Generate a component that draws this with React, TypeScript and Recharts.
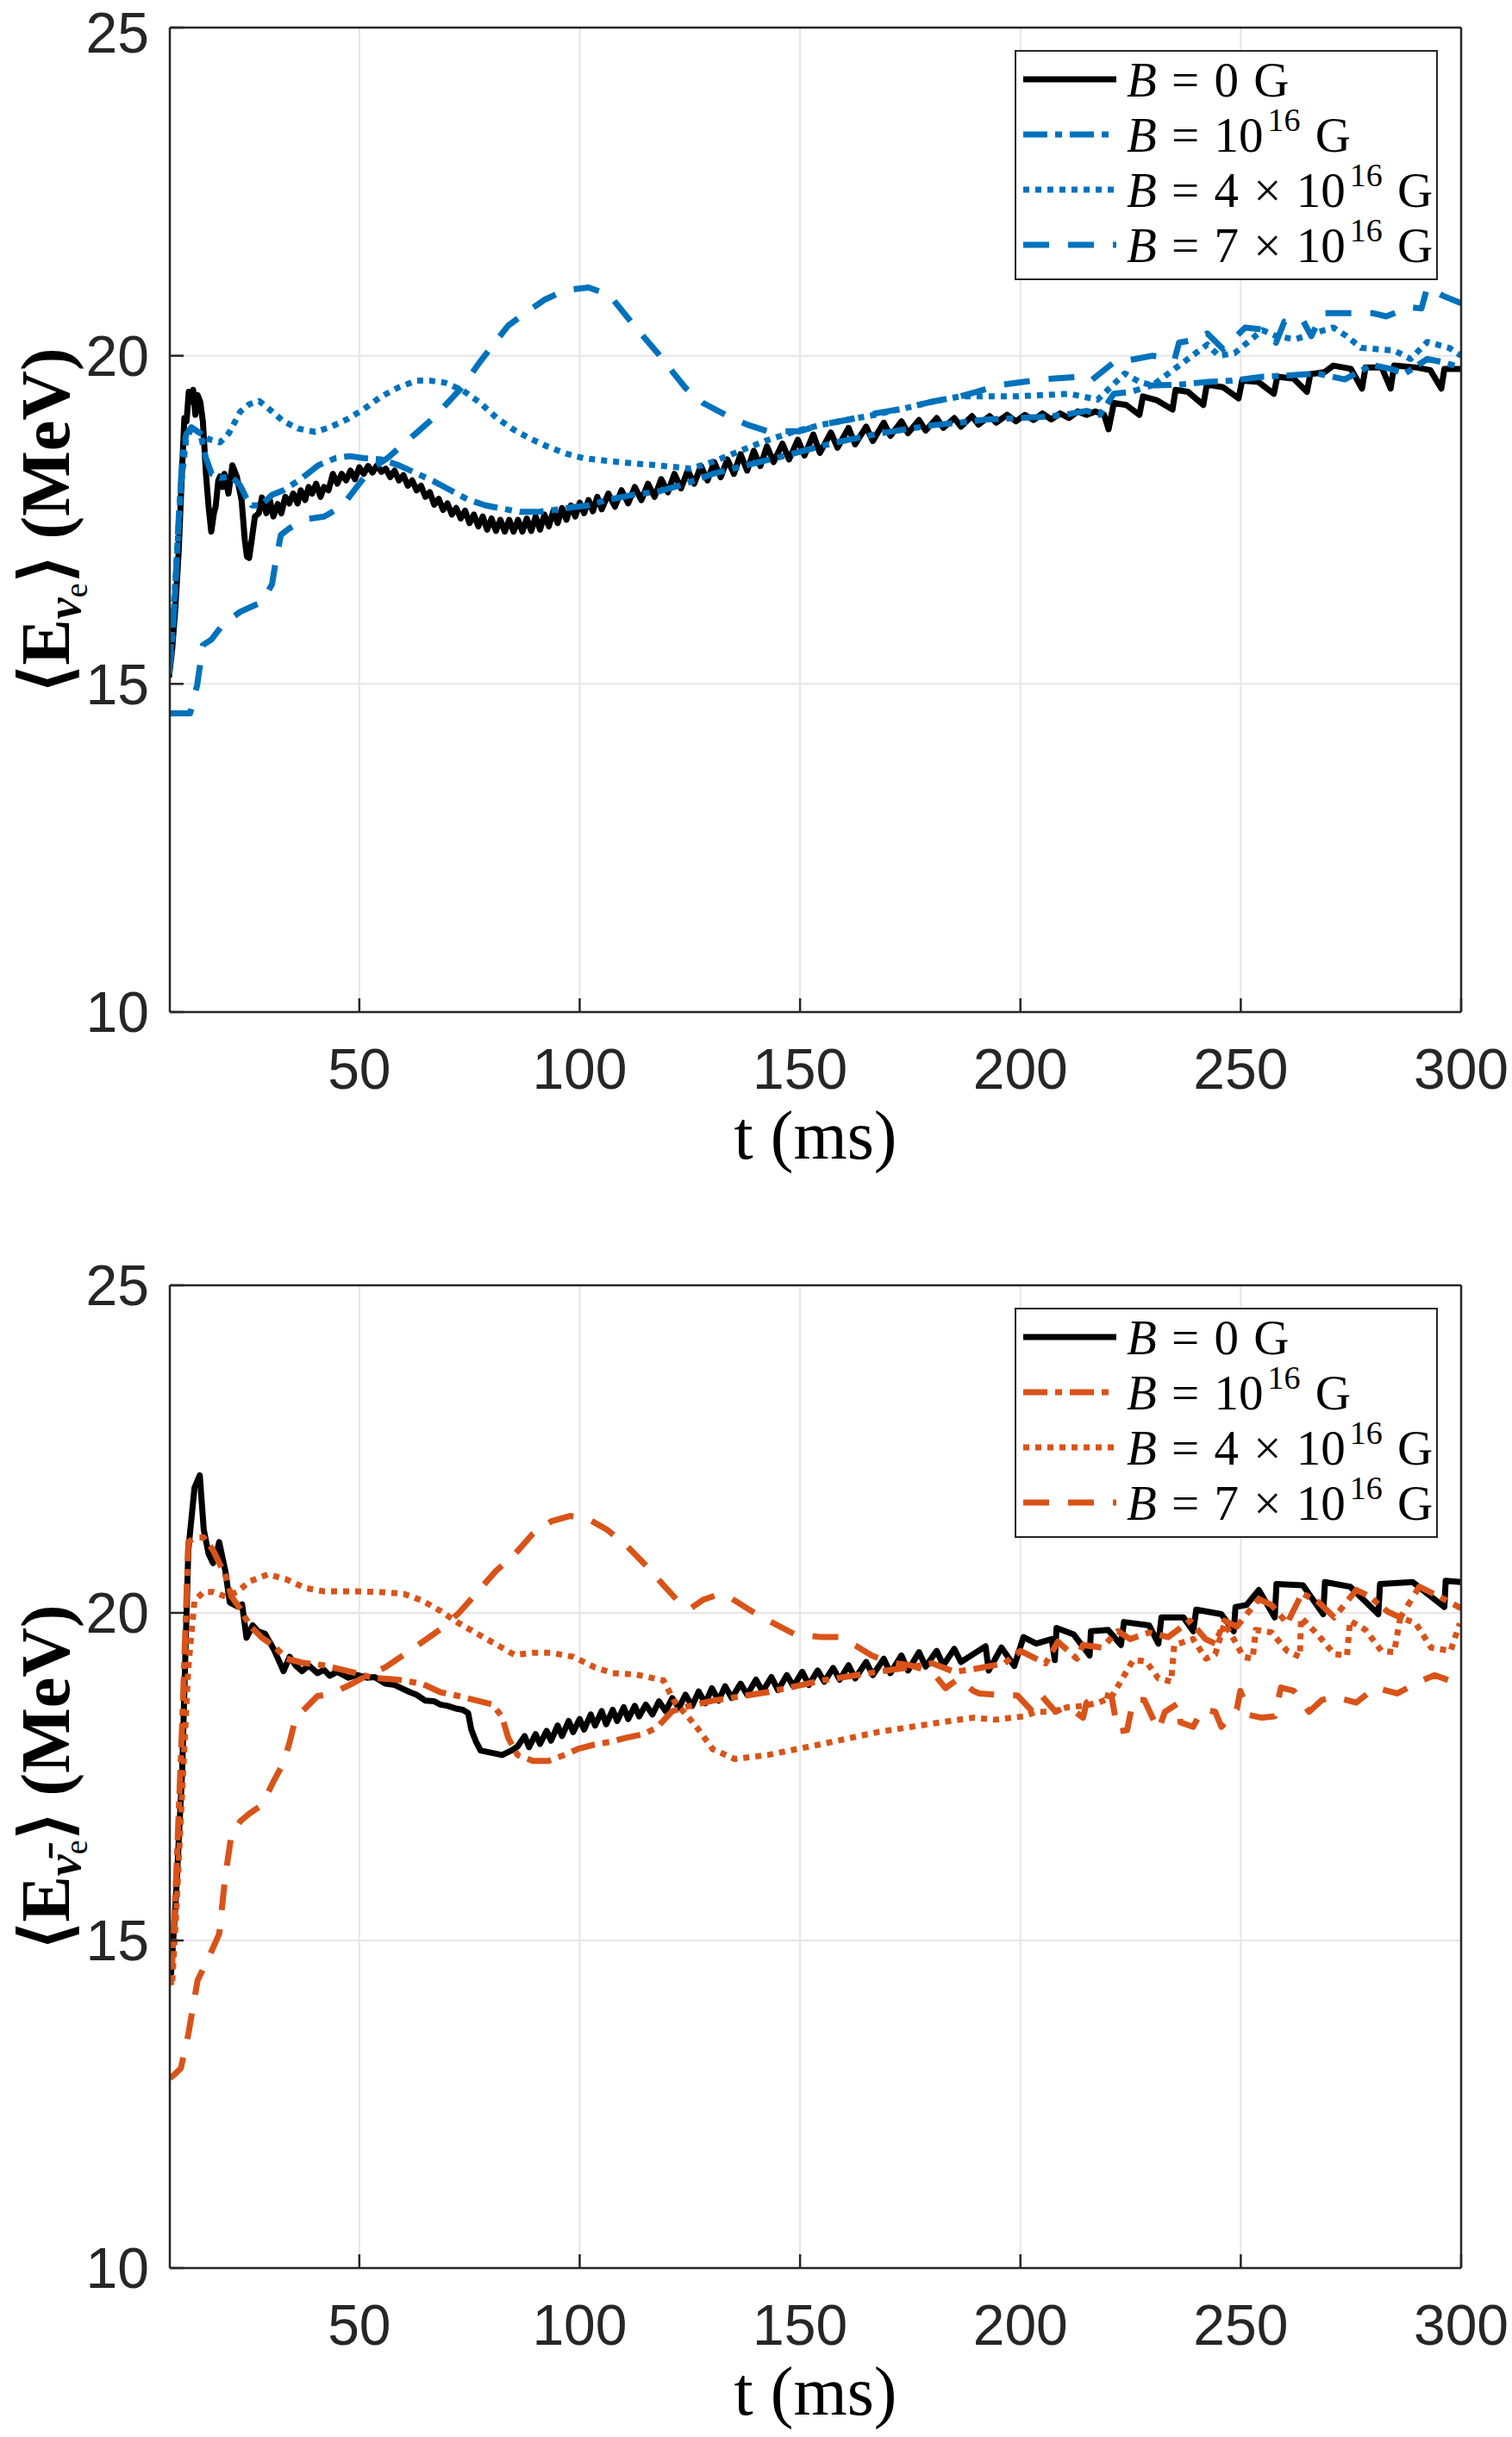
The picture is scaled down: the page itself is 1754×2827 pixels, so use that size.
import { CartesianGrid, Legend, Line, LineChart, XAxis, YAxis } from "recharts";

// axis ticks (t in ms, mean energy in MeV)
const T_TICKS = [50, 100, 150, 200, 250, 300];
const E_TICKS = [10, 15, 20, 25];
const T_DOMAIN = [7, 300];
const E_DOMAIN = [10, 25];

// --- electron neutrino, <E> vs t ---
const nueB0: [number, number][] = [
  [6.8, 15.1], [7.5, 15.5], [8.2, 16.1], [9, 17.0], [9.8, 18.3], [10.3, 19.05], [10.8, 19.0], [11.3, 19.45],
  [11.8, 19.3], [12.3, 19.48], [12.8, 19.1], [13.3, 19.4], [13.9, 19.3], [14.5, 19.0], [15.2, 18.2], [15.8, 17.7],
  [16.4, 17.32], [17.0, 17.6], [17.4, 17.7], [18.0, 18.1], [18.4, 18.16], [19.0, 18.0], [19.4, 18.2], [20.3, 17.9],
  [21.2, 18.33], [22.2, 18.16], [23.3, 17.79], [24.0, 17.2], [24.5, 16.94], [25.0, 16.92], [25.6, 17.2], [26.3, 17.55],
  [27.2, 17.6], [27.9, 17.84], [28.9, 17.6], [29.7, 17.8], [30.5, 17.55], [31.5, 17.74], [32.3, 17.6], [33.2, 17.85],
  [34.1, 17.75], [35, 17.9], [36, 17.75], [36.7, 17.95], [37.7, 17.8], [38.5, 18.0], [39.3, 17.9], [40.2, 18.05],
  [41.2, 17.85], [42, 18.0], [43, 17.95], [44, 18.2], [45, 18.05], [46, 18.2], [47, 18.1], [48, 18.25], [49, 18.12],
  [50, 18.3], [51, 18.2], [52, 18.32], [53, 18.22], [54, 18.33], [55, 18.23], [56, 18.28], [57, 18.15], [58, 18.25],
  [59, 18.1], [60, 18.18], [61, 18.02], [62, 18.1], [63, 17.95], [64, 18.02], [65, 17.85], [66, 17.92], [67, 17.73],
  [68, 17.82], [69, 17.65], [70, 17.75], [71, 17.58], [72, 17.68], [73, 17.52], [74, 17.64], [75, 17.45], [76, 17.58],
  [77, 17.4], [78, 17.55], [79, 17.35], [80, 17.52], [81, 17.33], [82, 17.5], [83, 17.32], [84, 17.5], [85, 17.32],
  [86, 17.5], [87, 17.32], [88, 17.52], [89, 17.33], [90, 17.55], [91, 17.35], [92, 17.58], [93, 17.4], [94, 17.63],
  [95, 17.45], [96, 17.68], [97, 17.5], [98, 17.72], [99, 17.55], [100, 17.76], [101, 17.6], [102, 17.8], [103, 17.63],
  [104, 17.85], [105, 17.66], [106.5, 17.9], [108, 17.7], [109.5, 17.95], [111, 17.75], [112.5, 18.0], [114, 17.8],
  [115.5, 18.05], [117, 17.85], [118.5, 18.12], [120, 17.92], [121.5, 18.2], [123, 17.98], [124.5, 18.25], [126, 18.05],
  [127.5, 18.32], [129, 18.1], [130.5, 18.38], [132, 18.15], [133.5, 18.42], [135, 18.2], [136.5, 18.5], [138, 18.25],
  [139.5, 18.55], [141, 18.32], [142.5, 18.62], [144, 18.38], [146, 18.66], [147.5, 18.42], [149.5, 18.72], [151, 18.48],
  [153, 18.8], [154.5, 18.52], [157, 18.83], [158.5, 18.6], [161, 18.9], [162.5, 18.65], [165, 18.92], [166.5, 18.7],
  [169, 18.98], [170.5, 18.78], [173, 19.0], [174.5, 18.82], [177, 19.02], [178.5, 18.86], [181, 19.05], [182.5, 18.9],
  [185, 19.05], [186.5, 18.92], [189, 19.08], [190.5, 18.95], [193, 19.08], [194.5, 18.98], [197, 19.1], [199, 19.0],
  [201, 19.1], [203, 19.02], [205, 19.12], [207, 19.03], [209, 19.12], [211, 19.05], [213, 19.15], [215, 19.1],
  [217, 19.15], [219, 19.1], [220, 18.88], [221.2, 19.28], [224, 19.25], [227, 19.1], [227.8, 19.38], [231, 19.32],
  [234.5, 19.18], [235.2, 19.48], [238, 19.45], [241.5, 19.25], [242.3, 19.56], [246, 19.52], [249.5, 19.35],
  [250.3, 19.62], [254, 19.6], [257.5, 19.42], [258.3, 19.68], [262, 19.65], [265, 19.45], [265.8, 19.72], [269, 19.75],
  [271, 19.85], [275, 19.8], [277.5, 19.5], [278.3, 19.82], [282, 19.82], [284, 19.5], [284.8, 19.85], [290, 19.82],
  [293, 19.78], [295.5, 19.5], [296.2, 19.8], [300, 19.8],
];

const nueB1: [number, number][] = [
  [6.8, 15.15], [7.5, 15.6], [8.2, 16.4], [9, 17.5], [9.8, 18.4], [10.7, 18.8], [11.9, 18.91], [13.9, 18.82],
  [15.2, 18.44], [16.5, 18.2], [18.4, 18.14], [21, 18.16], [23, 18.02], [24.3, 17.84], [25.6, 17.72], [27.6, 17.72],
  [30.2, 17.88], [32.8, 17.95], [36.7, 18.12], [40.7, 18.33], [44.6, 18.44], [47.8, 18.47], [51.1, 18.44], [55, 18.42],
  [59, 18.33], [62.9, 18.21], [66.8, 18.09], [70.7, 17.95], [74.6, 17.81], [78.6, 17.72], [82.5, 17.67], [86.4, 17.62],
  [90.3, 17.62], [94.2, 17.65], [98.2, 17.69], [102, 17.72], [106, 17.8], [112, 17.88], [117.7, 17.93], [124, 18.05],
  [130.2, 18.2], [136, 18.3], [142.6, 18.41], [148, 18.5], [155.1, 18.63], [161, 18.72], [167.6, 18.81], [174, 18.88],
  [180, 18.94], [186, 18.98], [192.5, 19.03], [199, 19.05], [205, 19.07], [210, 19.1], [215, 19.16], [218, 19.1],
  [221.2, 19.42], [225, 19.45], [230, 19.55], [236, 19.56], [242.4, 19.6], [248, 19.62], [255, 19.68], [261, 19.7],
  [267.3, 19.73], [273.6, 19.64], [279.8, 19.86], [284, 19.8], [287.3, 19.73], [292.3, 19.95], [296, 19.9], [300, 19.82],
];

const nueB4: [number, number][] = [
  [6.8, 15.15], [7.5, 15.8], [8.5, 16.8], [9.5, 18.0], [10.7, 18.73], [11.9, 18.89], [13.9, 18.82], [15.8, 18.73],
  [18.4, 18.68], [20.4, 18.82], [23, 19.15], [25, 19.26], [27.3, 19.31], [29.5, 19.19], [32.8, 19.0], [36.1, 18.89],
  [40, 18.84], [43.3, 18.91], [47.2, 19.03], [51.1, 19.19], [55, 19.38], [59, 19.52], [62.9, 19.62], [66.1, 19.62],
  [69.4, 19.59], [73.3, 19.48], [77.3, 19.29], [81.2, 19.05], [85.1, 18.87], [89, 18.73], [92.9, 18.61], [96.9, 18.51],
  [100.8, 18.44], [106, 18.4], [112, 18.36], [117.7, 18.33], [125.2, 18.28], [130, 18.38], [136.4, 18.55], [142, 18.7],
  [148.9, 18.85], [155, 18.95], [161.3, 19.03], [167, 19.1], [173.8, 19.2], [180, 19.3], [186.3, 19.38], [192, 19.38],
  [198.8, 19.38], [205, 19.4], [211.2, 19.42], [217.5, 19.33], [223.7, 19.73], [227, 19.6], [230, 19.55], [236.2, 19.86],
  [242.4, 20.17], [245, 20.0], [248.6, 20.04], [254.9, 20.39], [258, 20.3], [262.3, 20.25], [267, 20.35], [271, 20.43],
  [274, 20.3], [277.3, 20.12], [284.8, 20.08], [288.5, 19.95], [292.3, 20.21], [297.3, 20.12], [300, 20.0],
];

const nueB7: [number, number][] = [
  [6.8, 14.55], [9, 14.55], [11.6, 14.55], [13.2, 14.98], [14.5, 15.59], [16.5, 15.68], [19.1, 15.91], [23, 16.1],
  [26.3, 16.2], [27.9, 16.24], [30.2, 16.52], [31.1, 16.9], [32.2, 17.27], [34.1, 17.37], [38, 17.51], [42, 17.55],
  [46, 17.7], [49.2, 17.98], [52.4, 18.26], [56.4, 18.44], [59.6, 18.63], [62.9, 18.82], [66.8, 19.05], [70.7, 19.33],
  [73.3, 19.52], [77.3, 19.9], [80.5, 20.18], [83.8, 20.46], [87.6, 20.65], [92.2, 20.86], [96.9, 21.0], [102, 21.04],
  [106.7, 20.93], [112.7, 20.43], [117.7, 20.04], [124, 19.51], [128, 19.28], [133.9, 19.07], [138, 18.95],
  [142.6, 18.85], [150, 18.85], [155, 18.95], [161.3, 19.03], [167, 19.12], [173.8, 19.2], [180, 19.3], [186.3, 19.38],
  [190, 19.45], [195, 19.55], [205, 19.64], [213.7, 19.68], [216, 19.62], [221.2, 19.9], [226, 19.95], [230, 20.0],
  [235, 19.95], [236, 20.2], [240, 20.25], [242.4, 20.34], [246, 20.1], [251, 20.43], [255, 20.4], [258, 20.2],
  [259.9, 20.52], [264, 20.55], [266, 20.3], [268.6, 20.65], [275, 20.65], [279.8, 20.65], [283, 20.6], [288.5, 20.74],
  [291, 20.72], [292.3, 21.04], [296, 20.91], [300, 20.8],
];

// --- electron antineutrino, <E> vs t ---
const anueB0: [number, number][] = [
  [7, 14.8], [7.3, 14.5], [8.4, 15.67], [9.8, 17.58], [10.5, 19.3], [11.2, 20.96], [12.6, 21.91], [13.8, 22.1],
  [14.7, 21.27], [15.8, 20.9], [16.8, 20.76], [17.6, 20.9], [18.2, 21.08], [19.6, 20.64], [20.6, 20.16], [22.3, 20.1],
  [23.4, 20.13], [24.4, 19.62], [25.8, 19.81], [27, 19.72], [28.6, 19.68], [30.7, 19.43], [32.8, 19.11], [34.2, 19.33],
  [35.5, 19.2], [37, 19.11], [38.5, 19.2], [40.5, 19.08], [42, 19.13], [43.3, 19.04], [45, 19.1], [47.5, 19.01],
  [49.5, 19.05], [51.7, 19.01], [53.5, 19.02], [55.9, 18.92], [58, 18.9], [61.5, 18.79], [63, 18.75], [65, 18.66],
  [67, 18.65], [68.4, 18.6], [70, 18.58], [71.9, 18.54], [73.5, 18.52], [74.7, 18.47], [75.4, 18.22], [76.5, 18.03],
  [77.5, 17.9], [79.6, 17.87], [82.4, 17.83], [84.5, 17.9], [85.9, 17.96], [87.5, 18.12], [88.5, 17.95], [90, 18.15],
  [91, 18.0], [92.5, 18.2], [93.5, 18.05], [95, 18.28], [96, 18.12], [97.5, 18.35], [98.5, 18.18], [100, 18.38],
  [101, 18.22], [102.5, 18.45], [103.5, 18.28], [105, 18.5], [106, 18.3], [107.5, 18.52], [108.5, 18.35], [110, 18.56],
  [111, 18.38], [112.5, 18.58], [113.5, 18.42], [115, 18.6], [116.5, 18.45], [118, 18.65], [119.5, 18.5], [121, 18.7],
  [122.5, 18.55], [124, 18.75], [125.5, 18.58], [127, 18.8], [128.5, 18.62], [130, 18.85], [131.5, 18.66], [133, 18.88],
  [134.5, 18.7], [136.5, 18.92], [138, 18.75], [140, 18.98], [141.5, 18.8], [143.5, 19.02], [145, 18.82], [147, 19.05],
  [148.5, 18.88], [150.5, 19.1], [152, 18.9], [154, 19.12], [155.5, 18.95], [157.5, 19.16], [159, 18.98], [161, 19.2],
  [162.5, 19.0], [165, 19.25], [166.5, 19.05], [169, 19.3], [170.5, 19.08], [173, 19.35], [174.5, 19.12], [177, 19.4],
  [178.5, 19.18], [181, 19.42], [182.5, 19.2], [185, 19.45], [186.5, 19.25], [189.3, 19.37], [192.1, 19.49],
  [192.8, 19.12], [195.7, 19.47], [198.6, 19.19], [200.7, 19.63], [203.6, 19.53], [207.1, 19.6], [207.8, 19.28],
  [208.2, 19.77], [212.1, 19.67], [215.7, 19.35], [216, 19.72], [219.9, 19.74], [222.8, 19.51], [223.5, 19.86],
  [229.2, 19.81], [231.3, 19.53], [232, 19.93], [237, 19.93], [239.2, 19.72], [239.9, 20.05], [245.6, 19.98],
  [248.4, 19.72], [248.8, 20.09], [251.3, 20.12], [254.1, 20.35], [257.7, 19.93], [258.1, 20.44], [264.1, 20.42],
  [268.7, 19.98], [269.1, 20.47], [274.8, 20.4], [281.2, 19.98], [281.6, 20.44], [289, 20.47], [296.2, 20.09],
  [296.5, 20.49], [300, 20.47],
];

const anueB1: [number, number][] = [
  [7, 14.8], [7.5, 14.6], [8.4, 15.9], [9.8, 18.3], [11.2, 21.08], [12.6, 21.15], [14.7, 21.15], [16.8, 20.96],
  [19.6, 20.57], [21, 20.25], [23, 20.06], [25.1, 19.81], [27.9, 19.62], [30.7, 19.49], [33.5, 19.3], [37, 19.24],
  [41.9, 19.2], [47.5, 19.11], [53.1, 19.01], [58.7, 18.98], [64.2, 18.92], [68.4, 18.79], [72.6, 18.73], [76.8, 18.66],
  [80.3, 18.6], [82.4, 18.41], [83.8, 18.09], [85.9, 17.83], [89.4, 17.74], [92.9, 17.74], [96.4, 17.83], [99.9, 17.93],
  [103.4, 17.99], [106.8, 18.03], [110.3, 18.09], [114.5, 18.15], [117.5, 18.25], [121, 18.5], [125, 18.58],
  [130.2, 18.66], [136, 18.72], [142.6, 18.79], [149, 18.88], [155.1, 18.97], [161, 19.03], [167.6, 19.1], [174, 19.16],
  [180, 19.23], [185, 19.1], [189.3, 19.14], [196.4, 19.23], [200, 19.42], [205.7, 19.23], [208.5, 19.56],
  [212.8, 19.3], [214.2, 19.51], [218.5, 19.47], [222.1, 19.72], [224.9, 19.6], [229.2, 19.7], [233.5, 19.63],
  [238.5, 19.88], [242, 19.6], [244.2, 19.53], [246.3, 19.88], [249.1, 19.79], [254.1, 20.21], [257, 20.12],
  [260.5, 19.84], [263.9, 20.3], [267.7, 20.16], [271.2, 19.93], [276.2, 20.35], [279, 20.26], [283.3, 20.02],
  [286.2, 19.93], [290.5, 20.4], [294.7, 20.26], [300, 20.07],
];

const anueB4: [number, number][] = [
  [7, 14.4], [7.5, 14.3], [8.4, 15.35], [9.8, 17.26], [11.2, 19.17], [12.6, 20.19], [14.7, 20.32], [16.8, 20.32],
  [19.6, 20.25], [22.3, 20.32], [25.1, 20.48], [29.3, 20.59], [33.5, 20.51], [37.7, 20.38], [41.9, 20.33], [47.5, 20.33],
  [54.5, 20.32], [60.1, 20.29], [64.2, 20.19], [68.4, 20.03], [72.6, 19.84], [76.8, 19.68], [81, 19.52], [85.2, 19.36],
  [89.4, 19.39], [93.6, 19.39], [98.5, 19.33], [103.4, 19.17], [107.5, 19.08], [112.7, 19.06], [119, 18.97],
  [121.4, 18.66], [126.4, 18.27], [130.2, 17.92], [135.2, 17.77], [142.6, 17.83], [155.1, 18.0], [167.6, 18.18],
  [180, 18.31], [189.3, 18.4], [194.3, 18.37], [200.7, 18.42], [203.6, 18.49], [207.1, 18.49], [210.7, 18.56],
  [214.2, 18.58], [217.8, 18.63], [220.7, 18.72], [225.6, 19.28], [228.5, 19.26], [231.3, 19.0], [234.2, 18.95],
  [234.9, 19.51], [239.2, 19.6], [242.1, 19.3], [244.2, 19.37], [246.3, 19.84], [248.4, 19.6], [250.6, 19.33],
  [252.7, 19.3], [253.4, 19.74], [257, 19.7], [260.5, 19.42], [263.4, 19.33], [263.7, 19.93], [267.7, 19.65],
  [271.2, 19.37], [274.1, 19.35], [274.8, 19.88], [278.3, 19.74], [281.9, 19.42], [284.8, 19.4], [286.2, 19.93],
  [289.7, 19.84], [293.2, 19.47], [297.6, 19.42], [299.7, 19.84],
];

const anueB7: [number, number][] = [
  [7, 12.9], [8, 12.95], [9.5, 13.05], [11.2, 13.57], [13.3, 14.39], [16.1, 14.78], [18.2, 15.1], [19.6, 15.99],
  [21, 16.62], [23, 16.82], [25.1, 16.94], [27.9, 17.07], [30.7, 17.45], [32.8, 17.71], [34.2, 18.03], [35.6, 18.41],
  [37.7, 18.54], [40.5, 18.73], [43.3, 18.76], [47.5, 18.89], [51.7, 19.04], [55.9, 19.17], [60.1, 19.36], [64.2, 19.55],
  [68.4, 19.75], [72.6, 20.0], [76.8, 20.32], [81, 20.64], [85.2, 20.89], [89.4, 21.21], [93.6, 21.4], [97.8, 21.48],
  [102, 21.43], [106.2, 21.27], [110.3, 21.05], [114.5, 20.76], [118, 20.5], [122.7, 20.15], [125.2, 20.07], [128, 20.2],
  [131.4, 20.28], [134, 20.24], [140.1, 19.98], [142.6, 19.89], [148.9, 19.67], [155, 19.63], [158.9, 19.63],
  [162.6, 19.5], [166.3, 19.35], [170, 19.25], [175, 19.2], [180, 19.1], [183, 18.85], [186, 19.0], [189.3, 18.81],
  [190.7, 18.77], [196.4, 18.74], [199.3, 18.74], [202.8, 18.49], [205, 18.72], [208, 18.49], [210.7, 18.58],
  [214.2, 18.4], [215, 18.63], [217.8, 18.77], [220.7, 18.72], [222.1, 18.19], [224.2, 18.21], [225.6, 18.67],
  [228.1, 18.67], [231.3, 18.21], [232.8, 18.49], [236, 18.63], [236.3, 18.33], [239.2, 18.26], [241.3, 18.53],
  [244.2, 18.49], [245.6, 18.26], [249.1, 18.53], [249.9, 18.81], [252, 18.44], [254.8, 18.4], [257.7, 18.42],
  [259.1, 18.86], [262, 18.81], [265.5, 18.49], [268.4, 18.67], [271.2, 18.72], [276.2, 18.63], [280.5, 18.86],
  [285.5, 18.77], [290.5, 18.95], [294, 19.05], [299.7, 18.91],
];

const AXIS_GREY = "#262626";
const BLUE = "#0072BD";
const ORANGE = "#D95319";
const TICK_FONT = "'Liberation Sans', Arial, Helvetica, sans-serif";
const TEX_FONT = "'Liberation Serif', 'Times New Roman', serif";
const LINE_W = 7;

const STYLES: Record<string, { dash?: string; exp: boolean; coef: string }> = {
  B0: { dash: undefined, exp: false, coef: "0" },
  B1: { dash: "28 9 8 9", exp: true, coef: "" },
  B4: { dash: "7 7", exp: true, coef: "4 × " },
  B7: { dash: "30 22", exp: true, coef: "7 × " },
};

const rows = (pts: [number, number][]) => pts.map(([t, v]) => ({ t, v }));

function LegendBox({ payload }: any) {
  return (
    <div
      style={{
        width: 491,
        height: 267,
        boxSizing: "border-box",
        border: `2.5px solid ${AXIS_GREY}`,
        background: "#fff",
        fontFamily: TEX_FONT,
        fontSize: 57,
        color: "#000",
      }}
    >
      {(payload || []).map((p: any) => {
        const s = STYLES[p.value];
        return (
          <div key={p.value} style={{ height: 64, display: "flex", alignItems: "center", whiteSpace: "nowrap" }}>
            <svg width={128} height={20} style={{ flex: "none" }}>
              <line x1={8} y1={10} x2={116} y2={10} stroke={p.color} strokeWidth={LINE_W} strokeDasharray={s.dash} />
            </svg>
            <span style={{ wordSpacing: 3 }}>
              <i>B</i> = {s.exp ? `${s.coef}10` : s.coef}
              {s.exp && (
                <span style={{ fontSize: 38, position: "relative", top: -24, marginLeft: 5 }}>16</span>
              )}{" "}
              G
            </span>
          </div>
        );
      })}
    </div>
  );
}

function YTitle({ viewBox, bar }: any) {
  const cy = viewBox.y + viewBox.height / 2;
  return (
    <text
      transform={`translate(80,${cy}) rotate(-90)`}
      textAnchor="middle"
      fontFamily={TEX_FONT}
      fontWeight="bold"
      fontSize={80}
      fill="#000"
    >
      <tspan>⟨E</tspan>
      <tspan fontSize={56} fontStyle="italic" dy={13}>{bar ? "ν\u0304" : "ν"}</tspan>
      <tspan fontSize={38} fontWeight="normal" dy={8}>e</tspan>
      <tspan fontSize={80} dy={-21}>⟩ (MeV)</tspan>
    </text>
  );
}

function XTitle({ viewBox }: any) {
  return (
    <text
      x={viewBox.x + viewBox.width / 2}
      y={viewBox.y + 170}
      textAnchor="middle"
      fontFamily={TEX_FONT}
      fontSize={80}
      fill="#000"
    >
      t (ms)
    </text>
  );
}

function EnergyPanel({
  height,
  plotTop,
  plotBottom,
  series,
  color,
  bar,
}: {
  height: number;
  plotTop: number;
  plotBottom: number;
  series: [number, number][][];
  color: string;
  bar: boolean;
}) {
  const tickStyle = { fill: AXIS_GREY, fontSize: 66, fontFamily: TICK_FONT };
  const axisLine = { stroke: AXIS_GREY, strokeWidth: 2.5 };
  const keys = ["B0", "B1", "B4", "B7"];
  return (
    <LineChart
      width={1754}
      height={height}
      margin={{ top: plotTop - 2, left: 47, right: 57, bottom: height - plotBottom - 110 }}
    >
      <CartesianGrid stroke="#e6e6e6" strokeWidth={2} />
      <XAxis
        dataKey="t"
        type="number"
        domain={T_DOMAIN}
        ticks={T_TICKS}
        allowDataOverflow
        height={110}
        tick={tickStyle}
        tickSize={-16}
        tickMargin={58}
        tickLine={axisLine}
        axisLine={axisLine}
        label={{ content: (p: any) => <XTitle {...p} /> }}
      />
      <XAxis
        xAxisId="top"
        orientation="top"
        dataKey="t"
        type="number"
        domain={T_DOMAIN}
        ticks={T_TICKS}
        allowDataOverflow
        height={2}
        tick={false}
        tickSize={-16}
        tickLine={axisLine}
        axisLine={axisLine}
      />
      <YAxis
        type="number"
        domain={E_DOMAIN}
        ticks={E_TICKS}
        allowDataOverflow
        width={150}
        tick={tickStyle}
        tickSize={-16}
        tickMargin={40}
        tickLine={axisLine}
        axisLine={axisLine}
        label={{ content: (p: any) => <YTitle {...p} bar={bar} /> }}
      />
      <YAxis
        yAxisId="right"
        orientation="right"
        type="number"
        domain={E_DOMAIN}
        ticks={E_TICKS}
        allowDataOverflow
        width={2}
        tick={false}
        tickSize={-16}
        tickLine={axisLine}
        axisLine={axisLine}
      />
      {keys.map((k, i) => (
        <Line
          key={k}
          name={k}
          data={rows(series[i])}
          dataKey="v"
          type="linear"
          stroke={i === 0 ? "#000" : color}
          strokeWidth={LINE_W}
          strokeDasharray={STYLES[k].dash}
          strokeLinejoin="round"
          dot={false}
          activeDot={false}
          isAnimationActive={false}
        />
      ))}
      <Legend
        layout="vertical"
        align="center"
        verticalAlign="middle"
        content={(p: any) => <LegendBox {...p} />}
        wrapperStyle={{ position: "absolute", left: 1177, top: plotTop + 26, width: 491, height: 267 }}
      />
    </LineChart>
  );
}

export default function App() {
  return (
    <div style={{ position: "absolute", left: 0, top: 0, width: 1754, height: 2827, background: "#fff" }}>
      <EnergyPanel
        height={1400}
        plotTop={32}
        plotBottom={1174}
        series={[nueB0, nueB1, nueB4, nueB7]}
        color={BLUE}
        bar={false}
      />
      <EnergyPanel
        height={1427}
        plotTop={91}
        plotBottom={1231}
        series={[anueB0, anueB1, anueB4, anueB7]}
        color={ORANGE}
        bar={true}
      />
    </div>
  );
}
